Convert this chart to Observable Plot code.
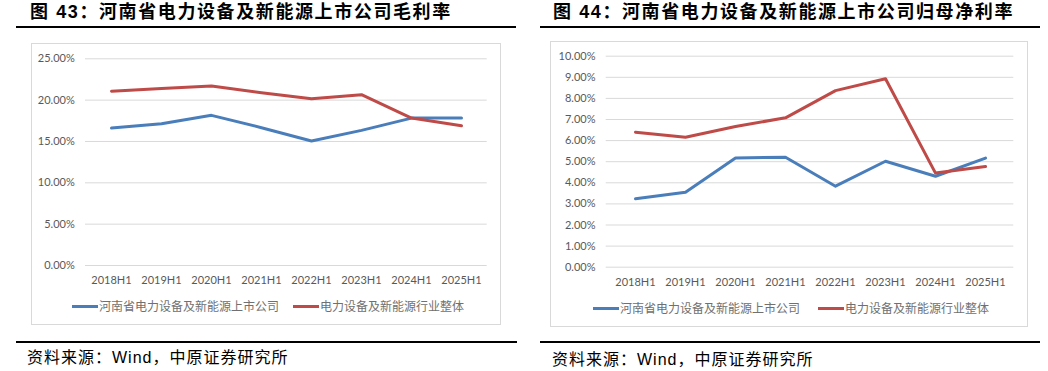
<!DOCTYPE html>
<html><head><meta charset="utf-8">
<script src="https://cdn.jsdelivr.net/npm/d3@7"></script>
<script src="https://cdn.jsdelivr.net/npm/@observablehq/plot@0.6"></script>
<style>
body{margin:0;width:1048px;height:371px;position:relative;background:#fff;overflow:hidden;font-family:"Noto Sans CJK SC",sans-serif}
.abs{position:absolute}
.title{font-family:"Liberation Sans","Noto Sans CJK SC",sans-serif;font-weight:700;font-size:18px;letter-spacing:1.6px;color:#000;white-space:nowrap;line-height:18px}
.rule{height:2px;background:#000}
.box{border:1px solid #d9d9d9;box-sizing:border-box}
.leg{font-family:"Noto Sans CJK SC",sans-serif;font-size:12px;color:#707070;display:flex;align-items:center;white-space:nowrap;line-height:12px;height:12px}
.sw{display:inline-block;width:26px;height:3px;margin-right:1px}
.src{font-family:"Liberation Sans","Noto Sans CJK SC",sans-serif;font-size:16px;letter-spacing:1px;color:#000;white-space:nowrap;line-height:16px}
.chart{position:absolute}
</style>
</head><body>
<div class="abs box" style="left:31px;top:43px;width:470px;height:282px"></div>
<div class="abs box" style="left:550px;top:41px;width:478px;height:286px"></div>
<div class="abs title" id="t1" style="left:30px;top:3px"></div>
<div class="abs title" id="t2" style="left:553px;top:3px"></div>
<div class="abs rule" style="left:16px;top:26px;width:500px"></div>
<div class="abs rule" style="left:540px;top:26px;width:500px"></div>
<div class="abs rule" style="left:16px;top:341px;width:501px"></div>
<div class="abs rule" style="left:540px;top:341px;width:500px"></div>
<div class="abs src" id="s1" style="left:27px;top:350px"></div>
<div class="abs src" id="s2" style="left:552px;top:352px"></div>
<div id="c1" class="chart" style="left:0px;top:40px"></div>
<div id="c2" class="chart" style="left:530px;top:40px"></div>
<div id="l1a" class="abs leg" style="left:72px;top:300px"></div>
<div id="l1b" class="abs leg" style="left:293px;top:300px"></div>
<div id="l2a" class="abs leg" style="left:593px;top:302px"></div>
<div id="l2b" class="abs leg" style="left:818px;top:302px"></div>
<script>
const categories = ["2018H1","2019H1","2020H1","2021H1","2022H1","2023H1","2024H1","2025H1"];
const seriesNames = ["河南省电力设备及新能源上市公司","电力设备及新能源行业整体"];
const seriesColors = ["#4a7ebb","#be4b48"];
// Chart 43: gross margin
const grossHenan    = [0.1662,0.1715,0.1816,0.1667,0.1505,0.1634,0.1783,0.1783];
const grossIndustry = [0.2107,0.2140,0.2170,0.2090,0.2017,0.2066,0.1783,0.1690];
const grossTicks = [0,0.05,0.10,0.15,0.20,0.25];
// Chart 44: net margin attributable to parent
const netHenan    = [0.0324,0.0355,0.0518,0.0521,0.0384,0.0502,0.0431,0.0517];
const netIndustry = [0.0640,0.0616,0.0667,0.0708,0.0837,0.0893,0.0446,0.0477];
const netTicks = [0,0.01,0.02,0.03,0.04,0.05,0.06,0.07,0.08,0.09,0.10];
const title1 = "图 43：河南省电力设备及新能源上市公司毛利率";
const title2 = "图 44：河南省电力设备及新能源上市公司归母净利率";
const sourceText = "资料来源：Wind，中原证券研究所";

document.getElementById("t1").textContent = title1;
document.getElementById("t2").textContent = title2;
document.getElementById("s1").textContent = sourceText;
document.getElementById("s2").textContent = sourceText;

function legendItem(el, i){
  const e = document.getElementById(el);
  const sw = document.createElement("span"); sw.className="sw"; sw.style.background = seriesColors[i];
  const tx = document.createElement("span"); tx.textContent = seriesNames[i];
  e.appendChild(sw); e.appendChild(tx);
}
legendItem("l1a",0); legendItem("l1b",1); legendItem("l2a",0); legendItem("l2b",1);

function chart(a, b, ticks, o){
  const data = categories.flatMap((c,i)=>[
    {cat:c, v:a[i], s:seriesNames[0]},
    {cat:c, v:b[i], s:seriesNames[1]}
  ]);
  return Plot.plot({
    width:o.width, height:250,
    marginLeft:o.ml, marginRight:o.mr, marginTop:o.mt, marginBottom:o.mb,
    x:{type:"point", domain:categories, padding:0.5, label:null},
    y:{domain:[0, ticks[ticks.length-1]], label:null},
    color:{domain:seriesNames, range:seriesColors},
    style:{fontFamily:"Lato, 'Liberation Sans', sans-serif", fontSize:"11px", color:"#595959", background:"transparent", overflow:"visible"},
    marks:[
      Plot.gridY(ticks, {stroke:"#d9d9d9", strokeOpacity:1, strokeWidth:1}),
      Plot.axisY(ticks, {tickSize:0, tickPadding:10.7, tickFormat:d3.format(".2%"), label:null}),
      Plot.axisX({tickSize:0, tickPadding:10.5, label:null}),
      Plot.line(data, {x:"cat", y:"v", z:"s", stroke:"s", strokeWidth:3})
    ]
  });
}
document.getElementById("c1").appendChild(chart(grossHenan, grossIndustry, grossTicks, {width:520, ml:85, mr:33.3, mt:18.3, mb:25}));
document.getElementById("c2").appendChild(chart(netHenan, netIndustry, netTicks, {width:518, ml:75.7, mr:34.7, mt:15.7, mb:23.3}));
</script>
</body></html>
